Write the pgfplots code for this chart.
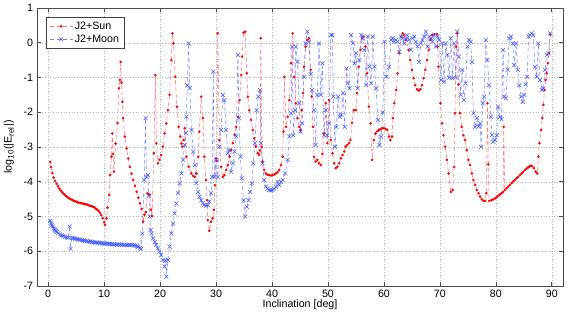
\documentclass[border=0pt]{standalone}
\usepackage{fontspec}
\setmainfont{Liberation Sans}
\usepackage{pgfplots}
\pgfplotsset{compat=1.18}
\definecolor{sunline}{rgb}{1,0.45,0.45}
\definecolor{sunmark}{rgb}{1,0,0}
\definecolor{moonline}{rgb}{0.45,0.52,1}
\definecolor{moonmark}{rgb}{0.25,0.35,1}
\begin{document}
\fontsize{8}{9.6}\selectfont
\begin{tikzpicture}
\begin{axis}[
  scale only axis, width=394.5pt, height=208.5pt,
  xmin=-2, xmax=92, ymin=-7, ymax=1,
  xtick={0,10,...,90}, ytick={-7,-6,...,1},
  tick align=inside, major tick length=3pt,
  grid=major, grid style={dash pattern=on 0.4pt off 1.6pt, gray!55, line width=0.35pt},
  axis line style={gray!60!black, line width=0.5pt}, tick style={gray!60!black, line width=0.5pt},
  /pgf/number format/assume math mode=true,
  ticklabel style={font=\fontsize{8}{9.6}\selectfont},
  xlabel={Inclination [deg]},
  ylabel={log\textsubscript{10}(|E\textsubscript{rel}|)},
  label style={font=\fontsize{8}{9.6}\selectfont},
  x label style={at={(axis description cs:0.5,-0.0683)}, anchor=center},
  y label style={at={(axis description cs:-0.0532,0.5)}, anchor=center},
  legend style={at={(0.017,0.966)}, anchor=north west, draw=black!75, line width=0.5pt,
    font=\fontsize{8}{9.6}\selectfont, inner xsep=2.5pt, inner ysep=2pt, row sep=1pt, fill=white,
    nodes={inner xsep=1.4pt, inner ysep=1pt, text depth=0.15em}},
  legend cell align=left,
]
\addplot[color=sunline, line width=0.4pt, dash pattern=on 3pt off 2pt, mark=*, mark size=0.75pt,
  mark options={solid, draw=sunmark, fill=sunmark}] coordinates {
(0.36,-3.43) (0.5,-3.58) (0.75,-3.75) (1.0,-3.88) (1.25,-3.98) (1.5,-4.06) (1.75,-4.13) (2.0,-4.2) (2.25,-4.25) (2.5,-4.3) (2.75,-4.34) (3.0,-4.38) (3.25,-4.42) (3.5,-4.45) (3.75,-4.48) (4.0,-4.5) (4.25,-4.52) (4.5,-4.54) (4.75,-4.56) (5.0,-4.57) (5.25,-4.59) (5.5,-4.6) (5.75,-4.61) (6.0,-4.62) (6.25,-4.63) (6.5,-4.64) (6.75,-4.65) (7.0,-4.66) (7.25,-4.68) (7.5,-4.69) (7.75,-4.7) (8.0,-4.72) (8.25,-4.74) (8.5,-4.77) (8.75,-4.8) (9.0,-4.84) (9.25,-4.89) (9.5,-4.96) (9.75,-5.05) (10.0,-5.17) (10.15,-5.24)
(10.4,-5.05) (10.6,-4.75) (10.9,-4.38) (11.05,-3.81) (11.3,-3.28) (11.45,-2.61) (11.6,-3.2) (11.75,-3.71) (12.05,-2.9) (12.4,-2.31) (12.65,-1.31) (12.8,-1.07) (12.95,-0.55) (13.1,-1.15) (13.25,-1.7) (13.4,-2.17) (13.7,-2.70) (14.0,-3.04) (14.3,-3.33) (14.6,-3.57) (14.9,-3.77) (15.2,-3.95) (15.5,-4.12) (15.8,-4.29) (16.1,-4.46) (16.4,-4.62) (16.7,-4.78) (16.97,-5.15) (17.2,-4.95) (17.45,-4.87) (17.74,-4.33) (17.95,-4.36) (18.15,-4.38) (18.4,-4.8) (18.57,-4.99) (18.87,-3.18) (19.16,-0.93) (19.34,-2.89) (19.6,-3.47) (19.9,-3.37) (20.2,-3.23) (20.5,-2.99) (20.8,-2.61) (21.1,-2.32) (21.4,-1.94) (21.7,-1.5) (22.0,-0.5) (22.2,0.27) (22.4,-0.02) (22.7,-0.98) (23.0,-1.84) (23.3,-2.42) (23.6,-2.70) (23.8,-2.9) (24.0,-2.99) (24.2,-2.8) (24.4,-2.46) (24.7,-3.28) (25.1,-3.57) (25.6,-3.76) (25.9,-3.83) (26.2,-3.86) (26.5,-3.76) (26.8,-3.28) (27.0,-2.56) (27.35,-1.55) (27.65,-2.17) (27.9,-3.28) (28.2,-3.95) (28.4,-4.53) (28.5,-5.1) (28.8,-5.41) (29.1,-5.15) (29.4,-5.05) (29.6,-4.81) (29.8,-4.1) (30.0,-3.33) (30.15,-3.4) (30.3,0.27) (30.6,-2.8) (30.9,-3.57) (31.2,-3.86) (31.5,-3.81) (31.8,-3.66) (32.1,-3.52) (32.4,-3.28) (32.7,-3.09) (33.0,-2.89) (33.3,-2.65) (33.6,-2.42) (33.9,-2.13) (34.2,-1.65) (34.5,-0.93) (34.65,-0.40) (34.9,0.29) (35.2,0.32) (35.5,-0.88) (35.7,-1.55) (35.95,-1.94) (36.25,-2.22) (36.55,-2.51) (36.8,-2.75) (37.1,-2.99) (37.45,-3.18) (37.7,-3.23) (37.85,-3.1) (38.0,0.13) (38.15,-3.0) (38.3,-3.42) (38.6,-3.66) (38.9,-3.76) (39.2,-3.8) (39.5,-3.81) (39.8,-3.82) (40.1,-3.81) (40.4,-3.79) (40.7,-3.76) (41.0,-3.72) (41.3,-3.66) (41.6,-3.52) (41.9,-3.28) (42.05,-2.56) (42.2,-0.98) (42.5,-2.42) (42.8,-2.13) (43.1,-1.65) (43.4,-0.59) (43.7,0.27) (44.0,-0.98) (44.25,-1.74) (44.55,-2.17) (44.85,-2.42) (45.1,-2.51) (45.3,-1.94) (45.55,-1.45) (45.7,-0.69) (46.0,-0.11) (46.3,0.08) (46.6,0.13) (46.9,-0.78) (47.1,-1.55) (47.3,-2.42) (47.5,-3.28) (47.8,-3.42) (48.1,-3.37) (48.4,-3.47) (48.7,-3.52) (49.0,-3.2) (49.3,-2.61) (49.6,-1.74) (49.9,-2.89) (50.2,-1.65) (50.5,-2.8) (50.8,-3.18) (51.1,-3.47) (51.4,-3.61) (51.7,-3.57) (52.0,-3.47) (52.3,-3.33) (52.6,-3.23) (52.9,-3.13) (53.15,-2.99) (53.45,-2.94) (53.75,-2.89) (54.0,-2.80) (54.3,-2.3) (54.6,-1.94) (55.0,-1.94) (55.2,-1.45) (55.5,-0.69) (55.8,-0.21) (56.1,0.13) (56.4,0.18) (56.7,-0.11) (57.0,-0.88) (57.3,-1.84) (57.6,-2.32) (57.9,-3.37) (58.2,-2.80) (58.5,-2.61) (58.8,-2.55) (59.1,-2.51) (59.4,-2.49) (59.7,-2.46) (60.0,-2.46) (60.3,-2.48) (60.6,-2.51) (60.9,-2.70) (61.15,-2.80) (61.45,-2.70) (61.6,-2.17) (61.85,-1.74) (62.2,-1.36) (62.45,-0.88) (62.75,-0.30) (63.1,0.18) (63.35,0.27) (63.65,0.22) (63.95,0.08) (64.4,-0.21) (64.7,-0.50) (65.0,-0.78) (65.3,-1.02) (65.6,-1.22) (65.9,-1.34) (66.2,-1.38) (66.5,-1.34) (66.8,-1.22) (67.1,-1.02) (67.4,-0.78) (67.7,-0.5) (68.0,-0.21) (68.3,0.08) (68.6,0.22) (69.0,0.24) (69.5,0.25) (69.6,-0.11) (69.75,-0.69) (70.1,-1.74) (70.4,-2.32) (70.65,-2.66) (70.95,-2.99) (71.25,-3.37) (71.55,-3.76) (71.95,-4.29) (72.3,-4.24) (72.55,-3.57) (72.7,-2.03) (72.9,-0.11) (73.1,0.27) (73.35,-1.2) (73.6,-2.03) (73.9,-2.42) (74.2,-2.66) (74.5,-2.80) (74.8,-3.09) (75.1,-3.37) (75.4,-3.52) (75.7,-3.76) (76.0,-3.95) (76.3,-4.09) (76.6,-4.24) (76.9,-4.33) (77.2,-4.43) (77.5,-4.51) (77.8,-4.55) (78.1,-4.55) (78.3,-4.33) (78.5,-1.74) (78.65,-3.5) (78.8,-4.55) (79.2,-4.53) (79.5,-4.51) (79.85,-4.48) (80.1,-4.45) (80.4,-4.41) (80.7,-4.37) (81.0,-4.33) (81.3,-4.29) (81.4,-2.42) (81.6,-4.24) (81.9,-4.19) (82.2,-4.14) (82.5,-4.09) (82.8,-4.04) (83.1,-3.99) (83.4,-3.95) (83.7,-3.9) (84.0,-3.86) (84.3,-3.81) (84.6,-3.76) (84.9,-3.71) (85.2,-3.66) (85.5,-3.62) (85.75,-3.59) (86.0,-3.56) (86.2,-3.54) (86.5,-3.55) (86.8,-3.61) (87.1,-3.71) (87.4,-3.76) (87.6,-3.28) (87.8,-2.89) (88.1,-2.51) (88.3,-2.17) (88.5,-1.79) (88.7,-1.36) (88.9,-1.07) (89.1,-0.88) (89.3,-0.59) (89.5,-0.30) (89.75,0.24)
};
\addlegendentry{J2+Sun}
\addplot[color=moonline, line width=0.4pt, dash pattern=on 3pt off 2pt, mark=x, mark size=2.1pt,
  mark options={solid, draw=moonmark, line width=0.4pt}] coordinates {
(0.36,-5.12) (0.5,-5.2) (0.66,-5.24) (0.8,-5.29) (0.96,-5.34) (1.1,-5.37) (1.25,-5.4) (1.4,-5.42) (1.55,-5.44) (1.8,-5.48) (2.1,-5.52) (2.4,-5.54) (2.7,-5.56) (3.0,-5.58) (3.3,-5.60) (3.6,-5.61) (3.85,-5.29) (4.0,-5.93) (4.2,-5.62) (4.5,-5.62) (4.8,-5.64) (5.1,-5.65) (5.4,-5.66) (5.7,-5.67) (6.0,-5.68) (6.3,-5.69) (6.6,-5.70) (6.9,-5.71) (7.2,-5.72) (7.5,-5.72) (7.8,-5.73) (8.1,-5.74) (8.4,-5.75) (8.7,-5.75) (9.0,-5.76) (9.3,-5.76) (9.6,-5.77) (9.9,-5.77) (10.2,-5.78) (10.5,-5.78) (10.8,-5.79) (11.1,-5.79) (11.4,-5.80) (11.7,-5.80) (12.0,-5.80) (12.3,-5.81) (12.6,-5.81) (12.9,-5.81) (13.2,-5.81) (13.5,-5.82) (13.8,-5.82) (14.1,-5.82) (14.4,-5.82) (14.7,-5.82) (15.0,-5.82) (15.3,-5.83) (15.6,-5.84) (15.9,-5.86) (16.1,-5.87) (16.4,-5.90) (16.6,-5.93)
(16.8,-5.49) (17.15,-3.95) (17.4,-2.17) (17.55,-3.86) (17.85,-3.81) (18.0,-4.4) (18.15,-5.0) (18.3,-5.39) (18.45,-5.49) (18.75,-5.63) (19.05,-5.73) (19.3,-5.82) (19.6,-5.92) (19.9,-6.01) (20.2,-6.11) (20.5,-6.25) (20.8,-6.44) (21.0,-6.27) (21.1,-6.73) (21.4,-6.25) (21.7,-5.87) (22.0,-5.49) (22.3,-5.2) (22.6,-4.91) (22.9,-4.62) (23.2,-4.33) (23.5,-4.04) (23.8,-3.76) (24.1,-3.37) (24.4,-2.94) (24.6,-2.6) (24.7,-2.13) (24.85,-1.22) (25.1,-0.02) (25.3,-1.3) (25.6,-2.51) (25.9,-3.13) (26.2,-3.52) (26.5,-4.04) (26.8,-4.29) (27.05,-4.43) (27.35,-4.53) (27.65,-4.62) (27.9,-4.67) (28.2,-4.69) (28.5,-4.67) (28.8,-4.57) (29.1,-4.33) (29.3,-3.86) (29.5,-0.83) (29.7,-3.86) (30.0,-3.37) (30.3,-3.86) (30.6,-2.99) (30.9,-2.51) (31.2,-1.5) (31.5,-1.65) (31.8,-2.51) (32.1,-3.18) (32.4,-3.09) (32.7,-3.71) (33.0,-3.47) (33.3,-3.13) (33.6,-2.70) (33.9,-0.35) (34.1,-2.17) (34.35,-3.28) (34.6,-3.90) (34.9,-4.53) (35.2,-5.0) (35.5,-4.72) (35.8,-4.53) (36.1,-4.29) (36.4,-4.04) (36.65,-3.47) (36.95,-2.89) (37.25,-1.94) (37.55,-1.55) (37.85,-1.36) (38.0,-2.89) (38.3,-3.47) (38.6,-3.95) (38.9,-4.14) (39.2,-4.2) (39.5,-4.24) (39.8,-4.25) (40.1,-4.24) (40.4,-4.2) (40.7,-4.14) (41.0,-4.0) (41.3,-4.1) (41.6,-4.0) (41.9,-3.95) (42.35,-3.76) (42.8,-3.37) (43.1,-2.7) (43.4,-2.03) (43.6,-0.11) (43.8,-2.66) (44.1,-1.94) (44.25,-0.11) (44.55,-0.55) (44.85,-1.74) (45.1,-2.56) (45.4,-2.32) (45.7,-0.98) (46.0,-0.02) (46.3,0.32) (46.6,0.03) (46.9,-0.9) (47.2,-1.36) (47.5,-1.94) (47.8,-2.94) (48.1,-1.5) (48.4,-0.02) (48.7,-1.5) (49.0,-0.59) (49.3,-2.66) (49.6,-1.94) (49.9,-2.66) (50.2,-2.32) (50.5,0.22) (50.8,0.22) (50.95,-1.55) (51.25,-2.99) (51.5,-2.42) (51.8,-1.55) (52.1,-2.13) (52.4,-2.08) (52.7,-1.45) (53.0,-2.42) (53.3,-0.74) (53.55,-1.17) (53.85,-1.31) (54.15,0.22) (54.45,-0.02) (54.75,-0.59) (55.0,-0.30) (55.3,-1.31) (55.6,-0.5) (55.95,0.22) (56.2,0.13) (56.5,-0.21) (56.8,-1.22) (57.1,0.18) (57.4,-0.69) (57.7,-1.17) (58.0,0.18) (58.3,-0.69) (58.6,-1.31) (58.9,-2.22) (59.2,-2.94) (59.5,-2.70) (59.8,-2.0) (60.1,0.03) (60.45,-0.98) (60.95,-0.69) (61.25,0.08) (61.55,0.13) (61.85,0.03) (62.15,0.08) (62.45,0.03) (62.75,-0.26) (63.05,0.18) (63.35,0.13) (63.65,-0.02) (63.9,0.1) (64.2,0.22) (64.5,0.08) (64.8,-0.2) (65.1,0.13) (65.4,0.18) (65.7,0.03) (66.0,-0.1) (66.3,-0.55) (66.6,-0.02) (66.9,0.08) (67.2,0.18) (67.5,0.32) (67.8,-0.11) (68.1,0.18) (68.4,0.13) (68.7,0.03) (69.0,0.22) (69.3,-0.11) (69.6,0.18) (69.9,0.08) (70.2,-1.07) (70.45,-0.02) (70.75,-1.12) (71.05,-0.02) (71.35,-0.35) (71.65,-1.0) (71.95,0.13) (72.25,-1.02) (72.55,-0.02) (72.85,-1.0) (73.1,0.32) (73.4,-0.4) (73.7,-1.5) (74.0,-0.78) (74.3,-1.65) (74.6,-1.17) (74.9,-0.11) (75.2,0.08) (75.5,0.03) (75.7,-0.55) (76.0,-2.03) (76.3,-2.42) (76.6,-2.17) (76.9,-2.4) (77.2,-2.32) (77.35,-2.99) (77.65,-1.74) (77.9,-1.55) (78.2,0.08) (78.5,-0.50) (78.8,-1.22) (79.1,-2.13) (79.3,-2.66) (79.55,-2.85) (79.85,-2.80) (80.15,-2.66) (80.4,-1.84) (80.75,-2.13) (81.0,-2.2) (81.3,-0.21) (81.5,-1.55) (81.8,-1.60) (82.1,-0.78) (82.4,0.13) (82.7,0.18) (83.0,-0.02) (83.3,-0.64) (83.6,-0.02) (83.9,-0.78) (84.2,-1.22) (84.5,-1.55) (84.8,-1.70) (85.1,-1.5) (85.35,-1.2) (85.6,-0.98) (85.85,0.18) (86.1,0.22) (86.4,0.27) (86.7,0.22) (87.0,-0.69) (87.3,-0.98) (87.6,-0.02) (87.9,-1.07) (88.2,-1.36) (88.5,-1.31) (88.8,-0.78) (89.1,-0.35) (89.4,-0.30) (89.7,0.27)
};
\addlegendentry{J2+Moon}
\end{axis}
\pgfresetboundingbox
\path[use as bounding box] ([xshift=-27.75pt,yshift=-21pt]current axis.south west) rectangle ([xshift=3.75pt,yshift=6pt]current axis.north east);
\end{tikzpicture}
\end{document}
